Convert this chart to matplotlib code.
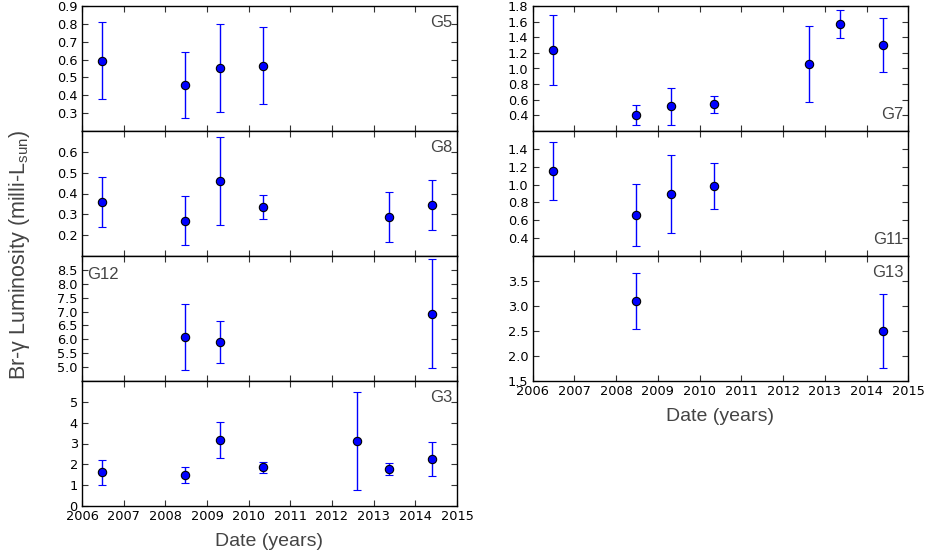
import matplotlib
matplotlib.use("Agg")
import matplotlib.pyplot as plt

# Observation epochs (decimal years)
epochs = [2006.49, 2008.47, 2009.31, 2010.34, 2012.61, 2013.36, 2014.39]

# Br-gamma luminosities (milli-Lsun) and 1-sigma errors, per source
g5_idx = [0, 1, 2, 3]
g5_val = [0.593, 0.458, 0.553, 0.566]
g5_err = [0.215, 0.186, 0.245, 0.217]

g8_idx = [0, 1, 2, 3, 5, 6]
g8_val = [0.361, 0.269, 0.462, 0.335, 0.288, 0.346]
g8_err = [0.120, 0.117, 0.211, 0.057, 0.121, 0.119]

g12_idx = [1, 2, 6]
g12_val = [6.09, 5.90, 6.93]
g12_err = [1.18, 0.75, 1.96]

g3_idx = [0, 1, 2, 3, 4, 5, 6]
g3_val = [1.62, 1.48, 3.17, 1.86, 3.13, 1.77, 2.24]
g3_err = [0.61, 0.39, 0.86, 0.26, 2.36, 0.30, 0.82]

g7_idx = [0, 1, 2, 3, 4, 5, 6]
g7_val = [1.240, 0.404, 0.514, 0.544, 1.058, 1.567, 1.300]
g7_err = [0.445, 0.131, 0.237, 0.110, 0.486, 0.178, 0.340]

g11_idx = [0, 1, 2, 3]
g11_val = [1.153, 0.662, 0.898, 0.988]
g11_err = [0.326, 0.345, 0.435, 0.257]

g13_idx = [1, 6]
g13_val = [3.10, 2.50]
g13_err = [0.56, 0.745]

year_ticks = list(range(2006, 2016))

LABEL_FONT = ["Liberation Sans", "DejaVu Sans"]
plt.rcParams["mathtext.fontset"] = "custom"
plt.rcParams["mathtext.rm"] = "Liberation Sans"
plt.rcParams["mathtext.it"] = "Liberation Sans:italic"

fig = plt.figure(figsize=(9.28, 5.58), dpi=100)
W, H = 928.0, 558.0


def make_axes(left_px, top_px, width_px, height_px):
    return fig.add_axes([left_px / W, 1 - (top_px + height_px) / H,
                         width_px / W, height_px / H])


panels = [
    # name, idx, val, err, ylim, yticks, column, row, label position
    ("G5", g5_idx, g5_val, g5_err, (0.2, 0.9),
     [0.3, 0.4, 0.5, 0.6, 0.7, 0.8, 0.9], 0, 0, "tr"),
    ("G8", g8_idx, g8_val, g8_err, (0.1, 0.7),
     [0.2, 0.3, 0.4, 0.5, 0.6], 0, 1, "tr"),
    ("G12", g12_idx, g12_val, g12_err, (4.5, 9.0),
     [5.0, 5.5, 6.0, 6.5, 7.0, 7.5, 8.0, 8.5], 0, 2, "tl"),
    ("G3", g3_idx, g3_val, g3_err, (0, 6),
     [0, 1, 2, 3, 4, 5], 0, 3, "tr"),
    ("G7", g7_idx, g7_val, g7_err, (0.2, 1.8),
     [0.4, 0.6, 0.8, 1.0, 1.2, 1.4, 1.6, 1.8], 1, 0, "br"),
    ("G11", g11_idx, g11_val, g11_err, (0.2, 1.6),
     [0.4, 0.6, 0.8, 1.0, 1.2, 1.4], 1, 1, "br"),
    ("G13", g13_idx, g13_val, g13_err, (1.5, 4.0),
     [1.5, 2.0, 2.5, 3.0, 3.5], 1, 2, "tr"),
]

col_left = [82.0, 532.7]
col_width = [375.0, 375.6]
top0 = 6.0
row_h = 125.0
bottom_row = {0: 3, 1: 2}

for name, idx, val, err, ylim, yticks, col, row, lpos in panels:
    ax = make_axes(col_left[col], top0 + row * row_h, col_width[col], row_h)
    x = [epochs[i] for i in idx]
    ax.errorbar(x, val, yerr=err, fmt="o", color="blue", ecolor="blue",
                elinewidth=1.0, capsize=3, capthick=1.0,
                markersize=6, markeredgecolor="black",
                markeredgewidth=0.8, zorder=3)
    ax.set_xlim(2006, 2015)
    ax.set_ylim(*ylim)
    ax.set_xticks(year_ticks)
    ax.set_yticks(yticks)
    if isinstance(yticks[0], int):
        ax.set_yticklabels([str(t) for t in yticks])
    else:
        ax.set_yticklabels(["%.1f" % t for t in yticks])
    ax.tick_params(direction="in", top=True, right=True, length=4.5,
                   width=0.8, labelsize=9.3, color="#333333", pad=3)
    if row == bottom_row[col]:
        ax.set_xticklabels([str(t) for t in year_ticks])
        ax.set_xlabel("Date (years)", fontsize=14, color="#444444",
                      family=LABEL_FONT, labelpad=7)
    else:
        ax.set_xticklabels([])
    for sp in ax.spines.values():
        sp.set_linewidth(1.0)
        sp.set_color("black")

    tx = {"tr": (0.988, 0.93, "right", "top"),
          "tl": (0.013, 0.91, "left", "top"),
          "br": (0.988, 0.07, "right", "bottom")}[lpos]
    ax.text(tx[0], tx[1], name, transform=ax.transAxes, ha=tx[2], va=tx[3],
            fontsize=12, color="#444444", family=LABEL_FONT)

fig.text(0.021, 0.543, "Br-\u03b3 Luminosity (milli-L$_{\\mathrm{sun}}$)",
         rotation=90, ha="center", va="center", fontsize=15.5,
         color="#444444", family=LABEL_FONT)

fig.savefig("out.png", dpi=100)
